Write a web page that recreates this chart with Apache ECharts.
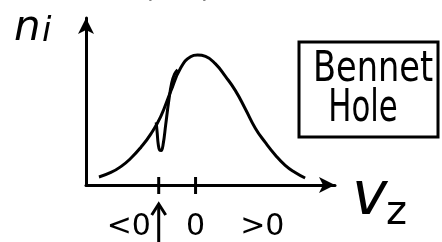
<!DOCTYPE html>
<html><head><meta charset="utf-8">
<script src="https://cdn.jsdelivr.net/npm/echarts@6/dist/echarts.min.js"></script>
<style>html,body{margin:0;padding:0;background:#fff}#c{width:442px;height:242px}</style>
</head><body><div id="c"></div>
<script>
// Maxwellian velocity distribution, v_z vs n_i
const gaussV = [-9.7,-8.5,-7.5,-6.5,-5.5,-4.5,-3.5,-2.5,-1.5,-0.5,0.2,1.0,2.0,3.0,4.0,5.0,6.0,7.0,8.0,9.0,10.0,11.0];
const gaussN = [0.048,0.075,0.110,0.160,0.225,0.305,0.410,0.560,0.700,0.768,0.778,0.770,0.725,0.650,0.565,0.455,0.340,0.255,0.180,0.118,0.075,0.042];
// Bennet hole burned into the distribution
const holeV = [-3.95,-3.85,-3.75,-3.6,-3.45,-3.25,-3.0,-2.7,-2.4,-2.1,-1.8];
const holeN = [0.375,0.310,0.245,0.208,0.206,0.245,0.360,0.500,0.610,0.665,0.690];
const tickValues = [-3.7, 0];
const labelValues = [-6.7, 0, 6.7];
const labelTexts = ['<0', '0', '>0'];
const holeMarkV = -3.7;   // where the arrow points (hole velocity)

const chart = echarts.init(document.getElementById('c'), null, {renderer:'canvas'});
const ink = '#000';
chart.setOption({
  animation:false,
  backgroundColor:'#fff',
  grid:{left:86, top:18, right:107, bottom:56},
  xAxis:{type:'value', min:-11, max:14,
    axisLine:{show:true, onZero:false, lineStyle:{color:ink, width:3}, symbol:['none','arrow'], symbolSize:[12,16]},
    axisTick:{show:false},
    axisLabel:{show:true, customValues:labelValues, margin:27, color:ink, fontSize:30, fontFamily:'DejaVu Sans',
      formatter:v=>labelTexts[labelValues.indexOf(v)]},
    splitLine:{show:false}},
  yAxis:{type:'value', min:0, max:1,
    axisLine:{show:true, onZero:false, lineStyle:{color:ink, width:3}, symbol:['none','arrow'], symbolSize:[12,16]},
    axisTick:{show:false}, axisLabel:{show:false}, splitLine:{show:false}},
  series:[
    {type:'line', data:gaussV.map((v,i)=>[v,gaussN[i]]), smooth:0.5, showSymbol:false,
     lineStyle:{color:ink, width:3}},
    {type:'line', data:holeV.map((v,i)=>[v,holeN[i]]), smooth:0.4, showSymbol:false,
     lineStyle:{color:ink, width:3}}
  ]
});
const ax = chart.convertToPixel({xAxisIndex:0}, holeMarkV);
const ay0 = chart.convertToPixel({yAxisIndex:0}, 0);
const ticks = tickValues.map(v => {
  const px = chart.convertToPixel({xAxisIndex:0}, v);
  return {type:'polyline', shape:{points:[[px, ay0-8],[px, ay0+9]]}, style:{stroke:ink, lineWidth:3, fill:'none'}};
});
chart.setOption({
  graphic:[
    ...ticks,
    {type:'polyline', shape:{points:[[ax, 242],[ax, ay0+20]]}, style:{stroke:ink, lineWidth:3, fill:'none'}},
    {type:'polyline', shape:{points:[[ax-7, ay0+30],[ax, ay0+19],[ax+7, ay0+30]]}, style:{stroke:ink, lineWidth:3, fill:'none'}},
    {type:'text', left:14, top:8, style:{text:'n', font:'italic 42px "DejaVu Sans"', fill:ink}},
    {type:'text', left:42, top:15, style:{text:'i', font:'italic 34px "DejaVu Sans"', fill:ink}},
    {type:'text', left:352, top:168, style:{text:'v', font:'italic 60px "DejaVu Sans"', fill:ink}},
    {type:'text', left:386, top:194, style:{text:'z', font:'40px "DejaVu Sans"', fill:ink}},
    {type:'text', left:122, top:-24, style:{text:'nᵢ(v  z)', font:'italic 28px "DejaVu Sans"', fill:ink}},
    {type:'rect', shape:{x:299, y:42, width:139, height:95}, style:{fill:'none', stroke:ink, lineWidth:3}},
    {type:'text', x:373, y:70, scaleX:0.8, style:{text:'Bennet', font:'42px "DejaVu Sans"', fill:ink, align:'center', verticalAlign:'middle'}},
    {type:'text', x:363, y:110, scaleX:0.7, style:{text:'Hole', font:'44px "DejaVu Sans"', fill:ink, align:'center', verticalAlign:'middle'}}
  ]
});
</script></body></html>
